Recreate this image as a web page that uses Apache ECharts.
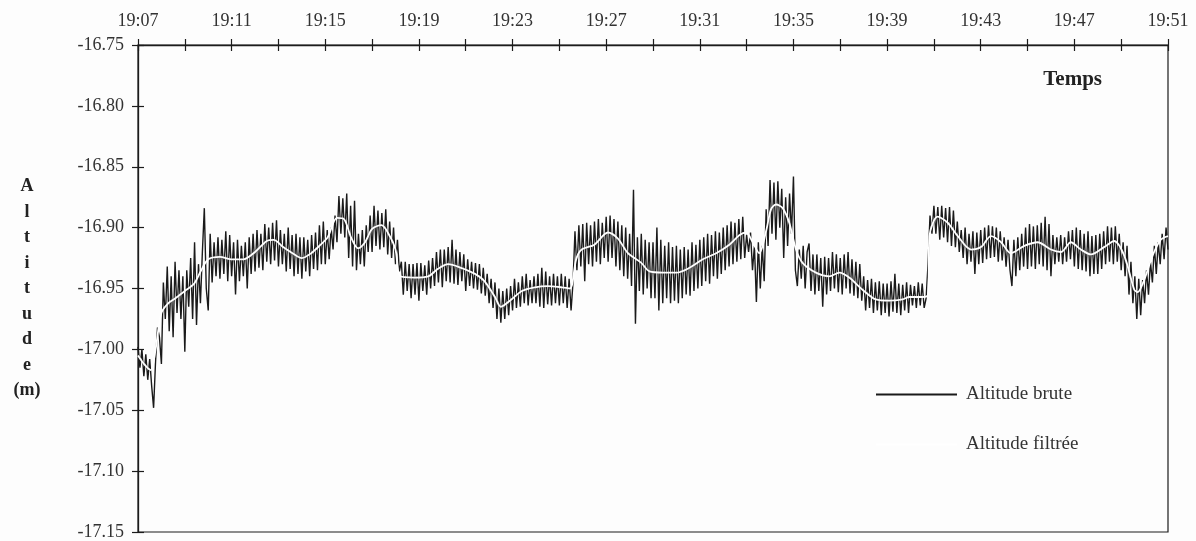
<!DOCTYPE html>
<html>
<head>
<meta charset="utf-8">
<script src="https://cdn.jsdelivr.net/npm/echarts@6/dist/echarts.min.js"></script>
<style>
html,body{margin:0;padding:0;background:#fdfdfd;}
#chart{width:1196px;height:541px;}
</style>
</head>
<body>
<div id="chart"></div>
<script>
// Time axis: minutes after 19:07
const startClock = 19 * 60 + 7;
const timeMin = 0, timeMax = 44, timeTick = 2, timeLabelEvery = 4;
const altMin = -17.15, altMax = -16.75, altTick = 0.05;

// Raw altitude, one reading every 5 s from 19:07:00 (one row per minute)
const rawStepMin = 1 / 12;
const rawAltitude = [
 -16.998,-17.015,-17.000,-17.022,-17.004,-17.025,-17.008,-17.030,-17.048,-17.010,-16.982,-16.990,
 -17.012,-16.945,-16.975,-16.932,-16.985,-16.940,-16.990,-16.928,-16.970,-16.935,-16.975,-16.940,
 -17.002,-16.935,-16.965,-16.925,-16.975,-16.912,-16.980,-16.930,-16.962,-16.920,-16.884,-16.950,
 -16.968,-16.905,-16.945,-16.912,-16.940,-16.908,-16.942,-16.910,-16.938,-16.903,-16.944,-16.906,
 -16.940,-16.912,-16.955,-16.910,-16.944,-16.915,-16.940,-16.912,-16.950,-16.908,-16.938,-16.905,
 -16.936,-16.902,-16.933,-16.905,-16.935,-16.897,-16.928,-16.900,-16.930,-16.896,-16.927,-16.894,
 -16.932,-16.902,-16.930,-16.905,-16.936,-16.900,-16.934,-16.906,-16.940,-16.905,-16.938,-16.908,
 -16.942,-16.908,-16.936,-16.910,-16.940,-16.906,-16.934,-16.904,-16.935,-16.898,-16.930,-16.895,
 -16.930,-16.902,-16.926,-16.900,-16.918,-16.890,-16.912,-16.874,-16.905,-16.876,-16.908,-16.872,
 -16.925,-16.882,-16.932,-16.878,-16.935,-16.905,-16.930,-16.902,-16.932,-16.898,-16.920,-16.890,
 -16.920,-16.882,-16.915,-16.886,-16.918,-16.888,-16.916,-16.885,-16.922,-16.895,-16.925,-16.900,
 -16.930,-16.910,-16.936,-16.928,-16.955,-16.928,-16.952,-16.930,-16.958,-16.930,-16.955,-16.929,
 -16.960,-16.929,-16.952,-16.931,-16.955,-16.927,-16.950,-16.925,-16.948,-16.920,-16.945,-16.918,
 -16.949,-16.918,-16.944,-16.916,-16.945,-16.910,-16.946,-16.918,-16.947,-16.920,-16.944,-16.922,
 -16.952,-16.926,-16.948,-16.928,-16.950,-16.929,-16.951,-16.930,-16.954,-16.933,-16.956,-16.938,
 -16.962,-16.942,-16.966,-16.945,-16.975,-16.950,-16.978,-16.952,-16.975,-16.950,-16.972,-16.948,
 -16.968,-16.942,-16.966,-16.945,-16.965,-16.940,-16.962,-16.938,-16.964,-16.943,-16.962,-16.940,
 -16.962,-16.938,-16.965,-16.933,-16.966,-16.936,-16.963,-16.940,-16.964,-16.938,-16.962,-16.940,
 -16.964,-16.938,-16.962,-16.940,-16.966,-16.942,-16.968,-16.945,-16.903,-16.935,-16.898,-16.932,
 -16.897,-16.944,-16.896,-16.930,-16.898,-16.932,-16.895,-16.928,-16.893,-16.930,-16.896,-16.925,
 -16.891,-16.928,-16.890,-16.925,-16.893,-16.932,-16.895,-16.935,-16.898,-16.940,-16.900,-16.942,
 -16.905,-16.948,-16.869,-16.979,-16.908,-16.952,-16.905,-16.955,-16.910,-16.950,-16.912,-16.958,
 -16.912,-16.958,-16.900,-16.968,-16.910,-16.962,-16.915,-16.958,-16.912,-16.962,-16.916,-16.960,
 -16.915,-16.962,-16.918,-16.958,-16.916,-16.955,-16.918,-16.956,-16.912,-16.952,-16.914,-16.950,
 -16.910,-16.948,-16.908,-16.944,-16.905,-16.946,-16.906,-16.940,-16.903,-16.942,-16.904,-16.938,
 -16.900,-16.935,-16.898,-16.932,-16.895,-16.930,-16.896,-16.928,-16.893,-16.926,-16.891,-16.925,
 -16.906,-16.920,-16.904,-16.935,-16.915,-16.961,-16.912,-16.950,-16.915,-16.944,-16.885,-16.915,
 -16.861,-16.905,-16.863,-16.910,-16.862,-16.900,-16.868,-16.925,-16.875,-16.915,-16.872,-16.905,
 -16.858,-16.935,-16.948,-16.918,-16.942,-16.915,-16.950,-16.920,-16.913,-16.952,-16.922,-16.955,
 -16.922,-16.952,-16.925,-16.965,-16.924,-16.955,-16.925,-16.952,-16.920,-16.950,-16.922,-16.953,
 -16.925,-16.955,-16.922,-16.950,-16.920,-16.954,-16.926,-16.956,-16.928,-16.958,-16.930,-16.960,
 -16.940,-16.968,-16.943,-16.966,-16.942,-16.970,-16.945,-16.968,-16.944,-16.972,-16.946,-16.970,
 -16.946,-16.973,-16.944,-16.969,-16.938,-16.970,-16.946,-16.972,-16.947,-16.968,-16.945,-16.970,
 -16.947,-16.964,-16.948,-16.966,-16.945,-16.964,-16.946,-16.966,-16.958,-16.930,-16.890,-16.905,
 -16.882,-16.905,-16.883,-16.910,-16.882,-16.908,-16.884,-16.912,-16.883,-16.915,-16.886,-16.916,
 -16.895,-16.920,-16.902,-16.925,-16.900,-16.930,-16.905,-16.928,-16.903,-16.938,-16.904,-16.930,
 -16.902,-16.929,-16.900,-16.926,-16.898,-16.925,-16.899,-16.924,-16.900,-16.928,-16.903,-16.927,
 -16.908,-16.932,-16.910,-16.935,-16.948,-16.910,-16.940,-16.908,-16.935,-16.905,-16.932,-16.900,
 -16.934,-16.897,-16.932,-16.899,-16.934,-16.898,-16.930,-16.896,-16.932,-16.891,-16.935,-16.897,
 -16.940,-16.906,-16.930,-16.908,-16.928,-16.906,-16.930,-16.908,-16.928,-16.903,-16.926,-16.902,
 -16.932,-16.900,-16.934,-16.902,-16.935,-16.905,-16.936,-16.903,-16.940,-16.907,-16.938,-16.906,
 -16.938,-16.905,-16.934,-16.903,-16.930,-16.899,-16.928,-16.900,-16.930,-16.899,-16.928,-16.905,
 -16.935,-16.912,-16.940,-16.915,-16.955,-16.928,-16.962,-16.940,-16.975,-16.942,-16.972,-16.943,
 -16.962,-16.935,-16.955,-16.928,-16.945,-16.915,-16.938,-16.912,-16.930,-16.905,-16.926,-16.900,
 -16.918
];

// Filtered altitude (minutes after 19:07, metres)
const filteredTime = [0,0.3,0.55,0.75,1.0,1.3,1.6,2.0,2.4,2.7,3.0,3.5,4.0,4.5,5.0,5.5,5.8,6.2,6.6,7.0,7.4,7.8,8.1,8.5,8.8,9.1,9.4,9.7,10.0,10.4,10.7,11.0,11.2,11.8,12.4,12.8,13.25,13.8,14.4,14.8,15.25,15.5,15.95,16.4,16.95,17.5,18.1,18.45,18.72,18.95,19.5,20.07,20.5,20.93,21.5,21.85,22.42,23.0,23.56,24.13,24.7,25.26,25.7,25.98,26.26,26.54,26.83,27.04,27.26,27.54,27.82,28.11,28.39,28.96,29.53,29.96,30.38,30.95,31.52,32.09,32.66,32.95,33.5,33.75,33.81,34.16,34.59,35.02,35.59,36.01,36.44,36.87,37.29,37.86,38.43,39.0,39.43,39.85,40.28,40.71,41.27,41.7,42.13,42.56,42.7,42.98,43.34,43.69,44.0];
const filteredAltitude = [-17.005,-17.013,-17.017,-17.000,-16.970,-16.962,-16.958,-16.952,-16.946,-16.935,-16.926,-16.924,-16.926,-16.926,-16.920,-16.911,-16.910,-16.916,-16.921,-16.925,-16.921,-16.914,-16.908,-16.892,-16.893,-16.908,-16.917,-16.912,-16.901,-16.898,-16.905,-16.918,-16.940,-16.941,-16.940,-16.934,-16.930,-16.933,-16.938,-16.944,-16.957,-16.965,-16.959,-16.952,-16.949,-16.948,-16.949,-16.950,-16.926,-16.918,-16.914,-16.904,-16.909,-16.921,-16.929,-16.936,-16.937,-16.937,-16.933,-16.926,-16.921,-16.914,-16.906,-16.904,-16.912,-16.921,-16.903,-16.885,-16.881,-16.884,-16.896,-16.918,-16.929,-16.937,-16.940,-16.937,-16.941,-16.951,-16.959,-16.960,-16.959,-16.957,-16.957,-16.955,-16.907,-16.891,-16.896,-16.907,-16.918,-16.916,-16.907,-16.912,-16.921,-16.915,-16.912,-16.918,-16.920,-16.912,-16.918,-16.922,-16.916,-16.911,-16.923,-16.951,-16.953,-16.943,-16.923,-16.910,-16.907];

const seriesNames = ['Altitude brute', 'Altitude filtrée'];
const axisName = 'A\nl\nt\ni\nt\nu\nd\ne\n(m)';
const cornerLabel = 'Temps';

function clock(v) {
  const m = Math.round(startClock + v);
  return Math.floor(m / 60) + ':' + String(m % 60).padStart(2, '0');
}

const rawData = rawAltitude.map((v, i) => [i * rawStepMin, v]);
const filteredData = filteredTime.map((t, i) => [t, filteredAltitude[i]]);

const serif = 'Liberation Serif, Times New Roman, serif';
const ink = '#1c1c1c';

const chart = echarts.init(document.getElementById('chart'), null, {renderer: 'canvas'});
chart.setOption({
  backgroundColor: '#fdfdfd',
  animation: false,
  grid: {left: 138, right: 28, top: 45, bottom: 9, show: true, borderColor: ink, borderWidth: 1.2, backgroundColor: 'transparent'},
  title: {text: cornerLabel, right: 89, top: 64, textStyle: {fontFamily: serif, fontWeight: 'bold', fontSize: 21, color: '#222'}},
  legend: {
    orient: 'vertical', left: 871, top: 380, icon: 'rect', itemWidth: 81, itemHeight: 2, itemGap: 31,
    textStyle: {fontFamily: serif, fontSize: 19, color: '#333', padding: [0, 0, 0, 4]},
    data: seriesNames
  },
  xAxis: [
    {type: 'value', position: 'top', min: timeMin, max: timeMax, interval: timeTick,
     axisLine: {lineStyle: {color: ink, width: 1.3}},
     axisTick: {show: true, inside: false, length: 6, lineStyle: {color: ink, width: 1.2}},
     axisLabel: {margin: 15, fontFamily: serif, fontSize: 18, color: '#333',
       formatter: v => (Math.round(v) % timeLabelEvery === 0 ? clock(v) : '')},
     splitLine: {show: false}},
    {type: 'value', position: 'top', min: timeMin, max: timeMax, interval: timeTick,
     axisLine: {show: false},
     axisTick: {show: true, inside: true, length: 6, lineStyle: {color: ink, width: 1.2}},
     axisLabel: {show: false}, splitLine: {show: false}}
  ],
  yAxis: [
    {type: 'value', position: 'left', min: altMin, max: altMax, interval: altTick,
     axisLine: {show: true, lineStyle: {color: ink, width: 1.3}},
     axisTick: {show: true, inside: false, length: 6, lineStyle: {color: ink, width: 1.2}},
     axisLabel: {margin: 14, fontFamily: serif, fontSize: 18, color: '#333', formatter: v => v.toFixed(2)},
     splitLine: {show: false},
     name: axisName, nameLocation: 'middle', nameRotate: 0, nameGap: 111,
     nameTextStyle: {fontFamily: serif, fontWeight: 'bold', fontSize: 18, lineHeight: 25.5, color: '#222', align: 'center'}},
    {type: 'value', position: 'left', min: altMin, max: altMax, interval: altTick,
     axisLine: {show: false},
     axisTick: {show: true, inside: true, length: 6, lineStyle: {color: ink, width: 1.2}},
     axisLabel: {show: false}, splitLine: {show: false}}
  ],
  series: [
    {name: seriesNames[0], type: 'line', data: rawData, symbol: 'none', z: 2,
     lineStyle: {color: '#1a1a1a', width: 1.4}, itemStyle: {color: '#1a1a1a'}},
    {name: seriesNames[1], type: 'line', data: filteredData, symbol: 'none', z: 3, smooth: 0.3,
     lineStyle: {color: '#ffffff', width: 1.8}, itemStyle: {color: '#ffffff'}}
  ]
});
</script>
</body>
</html>
